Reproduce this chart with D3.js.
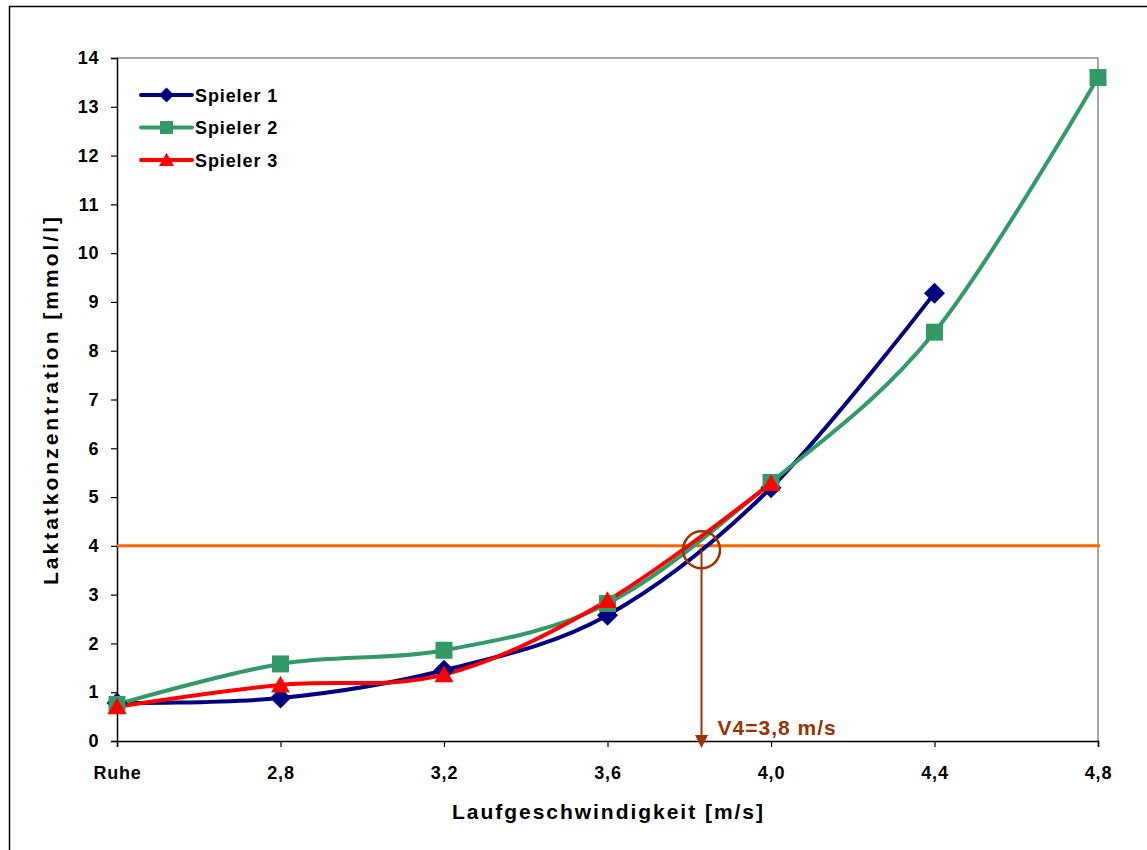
<!DOCTYPE html>
<html>
<head>
<meta charset="utf-8">
<script src="https://cdn.jsdelivr.net/npm/d3@7"></script>
<style>
  body { margin: 0; background: #fff; }
  svg text { font-family: "Liberation Sans", Arial, sans-serif; font-weight: bold; }
</style>
</head>
<body>
<svg id="chart" width="1147" height="850"></svg>
<script>
(function() {
  'use strict';

  // categories on the x axis (speed in m/s, "Ruhe" = rest)
  var categories = ['Ruhe', '2,8', '3,2', '3,6', '4,0', '4,4', '4,8'];
  var yTicks = [0, 1, 2, 3, 4, 5, 6, 7, 8, 9, 10, 11, 12, 13, 14];

  // lactate values per player, mmol/l
  var spieler1 = [0.78, 0.88, 1.45, 2.58, 5.19, 9.18];
  var spieler2 = [0.75, 1.58, 1.86, 2.82, 5.3, 8.38, 13.6];
  var spieler3 = [0.7, 1.15, 1.36, 2.88, 5.28];

  var threshold = 4;      // 4 mmol/l line
  var v4Speed = 3.83;     // crossing speed, m/s
  var v4Label = 'V4=3,8 m/s';

  var svg = d3.select('#chart');

  var left = 117, right = 1098, top = 58, bottom = 741;

  var x = d3.scalePoint().domain(categories).range([left, right]).padding(0);
  var y = d3.scaleLinear().domain([0, 14]).range([bottom, top]);

  // position of a speed in m/s between the 3,6 and 4,0 categories
  var xSpeed = function(v) {
    return x('3,6') + (v - 3.6) / 0.4 * x.step();
  };

  // Excel-like marker shapes, r = half width
  var markerPath = function(type, r) {
    if (type === 'diamond') return 'M0,' + (-r) + 'L' + r + ',0L0,' + r + 'L' + (-r) + ',0Z';
    if (type === 'square') return 'M' + (-r) + ',' + (-r) + 'H' + r + 'V' + r + 'H' + (-r) + 'Z';
    var h = r * 1.75;
    return 'M0,' + (-h * 0.55) + 'L' + r + ',' + (h * 0.45) + 'L' + (-r) + ',' + (h * 0.45) + 'Z';
  };

  // outer frame (only the top and left edges are in view)
  svg.append('path')
    .attr('d', 'M9.5,850 V6.5 H1147')
    .attr('fill', 'none')
    .attr('stroke', '#000')
    .attr('stroke-width', 1.5);

  // plot area border, top and right
  svg.append('path')
    .attr('d', 'M' + left + ',' + top + ' H' + right + ' V' + bottom)
    .attr('fill', 'none')
    .attr('stroke', '#8c8c8c')
    .attr('stroke-width', 1.5);

  // axes
  var xAxis = svg.append('g')
    .attr('transform', 'translate(0,' + bottom + ')')
    .call(d3.axisBottom(x).tickSize(6));
  xAxis.selectAll('text')
    .attr('y', 38).attr('dy', 0)
    .attr('font-size', 18)
    .attr('letter-spacing', 0.8)
    .attr('fill', '#000');

  var yAxis = svg.append('g')
    .attr('transform', 'translate(' + left + ',0)')
    .call(d3.axisLeft(y).tickValues(yTicks).tickSize(6).tickPadding(12));
  yAxis.selectAll('text')
    .attr('font-size', 18)
    .attr('letter-spacing', 0.6)
    .attr('fill', '#000');

  svg.selectAll('.domain').attr('stroke', '#000').attr('stroke-width', 1.5);
  svg.selectAll('.tick line').attr('stroke', '#000').attr('stroke-width', 1.2);

  // axis titles
  svg.append('text')
    .attr('x', 452)
    .attr('y', 819)
    .attr('font-size', 21)
    .attr('textLength', 311)
    .attr('lengthAdjust', 'spacing')
    .text('Laufgeschwindigkeit [m/s]');

  svg.append('text')
    .attr('transform', 'translate(58,585) rotate(-90)')
    .attr('font-size', 21)
    .attr('textLength', 368)
    .attr('lengthAdjust', 'spacing')
    .text('Laktatkonzentration [mmol/l]');

  // 4 mmol/l threshold
  svg.append('line')
    .attr('x1', left).attr('x2', right + 2)
    .attr('y1', y(threshold)).attr('y2', y(threshold))
    .attr('stroke', '#ff6600')
    .attr('stroke-width', 3);

  var series = [
    { name: 'Spieler 1', values: spieler1, color: '#000080', marker: 'diamond', r: 10.5 },
    { name: 'Spieler 2', values: spieler2, color: '#339966', marker: 'square', r: 8.5 },
    { name: 'Spieler 3', values: spieler3, color: '#ff0000', marker: 'triangle', r: 9.5 }
  ];

  var line = d3.line()
    .x(function(d, i) { return x(categories[i]); })
    .y(function(d) { return y(d); })
    .curve(d3.curveCardinal.tension(0));

  series.forEach(function(s) {
    svg.append('path')
      .attr('d', line(s.values))
      .attr('fill', 'none')
      .attr('stroke', s.color)
      .attr('stroke-width', 4)
      .attr('stroke-linejoin', 'round');
  });

  series.forEach(function(s) {
    svg.selectAll(null)
      .data(s.values)
      .enter()
      .append('path')
      .attr('d', markerPath(s.marker, s.r))
      .attr('transform', function(d, i) {
        return 'translate(' + x(categories[i]) + ',' + y(d) + ')';
      })
      .attr('fill', s.color);
  });

  // V4 marker: circle + arrow down to the x axis
  var vx = xSpeed(v4Speed), vy = y(threshold) + 4;
  var brown = '#993300';

  svg.append('circle')
    .attr('cx', vx).attr('cy', vy)
    .attr('r', 18.5)
    .attr('fill', 'none')
    .attr('stroke', brown)
    .attr('stroke-width', 2.5);

  svg.append('line')
    .attr('x1', vx).attr('x2', vx)
    .attr('y1', vy).attr('y2', bottom - 4)
    .attr('stroke', brown)
    .attr('stroke-width', 2);

  svg.append('path')
    .attr('d', 'M' + (vx - 6.5) + ',' + (bottom - 6) + ' L' + (vx + 6.5) + ',' + (bottom - 6) + ' L' + vx + ',' + (bottom + 7) + ' Z')
    .attr('fill', brown);

  svg.append('text')
    .attr('x', vx + 16)
    .attr('y', 735)
    .attr('font-size', 21)
    .attr('letter-spacing', 1)
    .attr('fill', brown)
    .text(v4Label);

  // legend
  var legend = svg.append('g').attr('transform', 'translate(141,95)');
  series.forEach(function(s, i) {
    var g = legend.append('g').attr('transform', 'translate(0,' + (i * 32.5) + ')');
    g.append('line')
      .attr('x1', 0).attr('x2', 51)
      .attr('stroke', s.color)
      .attr('stroke-width', 4)
      .attr('stroke-linecap', 'round');
    g.append('path')
      .attr('d', markerPath(s.marker, s.marker === 'square' ? 6.5 : 7.5))
      .attr('transform', 'translate(25.5,0)')
      .attr('fill', s.color);
    g.append('text')
      .attr('x', 54)
      .attr('y', 6.5)
      .attr('font-size', 18)
      .attr('letter-spacing', 0.9)
      .text(s.name);
  });
})();
</script>
</body>
</html>
